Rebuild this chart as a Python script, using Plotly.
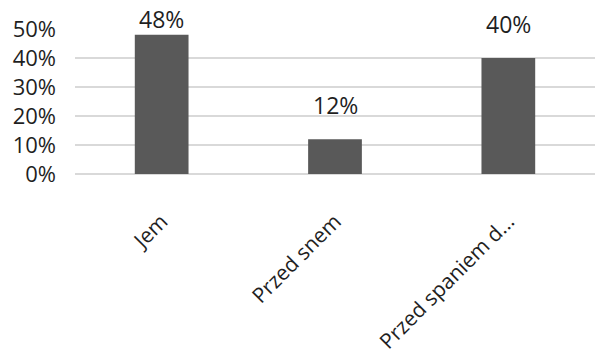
import plotly.graph_objects as go

# Survey answers and their shares
categories = ["Jem", "Przed snem", "Przed spaniem d..."]
shares = [0.48, 0.12, 0.40]
y_ticks = [0, 0.1, 0.2, 0.3, 0.4, 0.5]
y_tick_labels = ["0%", "10%", "20%", "30%", "40%", "50%"]

FONT = "Open Sans"
TEXT = "#1f1f1f"
BAR = "#595959"
GRID = "#d9d9d9"

W, H = 595, 356
M_L, M_R, M_T, M_B = 75, 0, 29, 182
Y_MAX = 0.5

fig = go.Figure(
    go.Bar(
        x=categories,
        y=shares,
        marker=dict(color=BAR, line=dict(width=0)),
        hoverinfo="skip",
    )
)

# Value labels above bars; a label near the top is pulled down toward its bar
plot_h = H - M_T - M_B
px_per_unit = plot_h / Y_MAX
for cat, v in zip(categories, shares):
    headroom = (Y_MAX - v) * px_per_unit
    shift = min(16, headroom - 8)
    fig.add_annotation(
        x=cat, y=v, yref="y", xref="x",
        text=f"{round(v * 100)}%",
        showarrow=False, yanchor="bottom", yshift=shift,
        font=dict(family=FONT, size=23, color=TEXT),
    )

fig.update_layout(
    width=W, height=H,
    margin=dict(l=M_L, r=M_R, t=M_T, b=M_B),
    paper_bgcolor="white", plot_bgcolor="white",
    bargap=0.69,
    showlegend=False,
    font=dict(family=FONT, color=TEXT),
)
fig.update_yaxes(
    range=[0, Y_MAX],
    tickvals=y_ticks, ticktext=y_tick_labels,
    showgrid=True, gridcolor=GRID, gridwidth=1.5,
    zeroline=True, zerolinecolor=GRID, zerolinewidth=1.5,
    showline=False, ticks="",
    ticklabelstandoff=18,
    tickfont=dict(family=FONT, size=22, color=TEXT),
)
fig.update_xaxes(
    range=[-0.5, 2.5],
    showgrid=False, showline=False, ticks="",
    tickangle=-45,
    ticklabelstandoff=30,
    tickfont=dict(family=FONT, size=21, color=TEXT),
)

fig.write_html("out.html")
